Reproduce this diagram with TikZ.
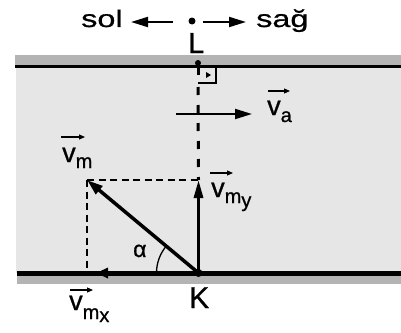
\documentclass[tikz,border=0pt]{standalone}
\usepackage{fontspec}
\setmainfont[FakeBold=0.8]{Liberation Sans}
\newfontfamily\widefont[FakeStretch=1.35,FakeBold=0.8]{Liberation Sans}
\usetikzlibrary{arrows.meta}
\definecolor{bank}{RGB}{180,180,180}
\definecolor{water}{RGB}{230,230,230}
\newcommand\bigvf{\fontsize{27}{27}\selectfont}
\newcommand\subf{\fontsize{20}{20}\selectfont}
\begin{document}
\begin{tikzpicture}[x=1pt,y=-1pt,
  lbl/.style={inner sep=0pt,anchor=base west},
  vlbl/.style={lbl,font=\bigvf},
  thinarr/.style={line width=2pt,-{Triangle[length=17pt,width=10pt]}},
  vecarr/.style={line width=1.1pt,-{Triangle[length=6pt,width=5pt]}},
  thickarr/.style={line width=3pt,-{Triangle[length=18pt,width=9pt]}},
  thindash/.style={line width=1.4pt,dash pattern=on 7pt off 4.5pt},
  dot/.style={circle,fill=black,inner sep=0pt,minimum size=#1}]
\useasboundingbox (0,0) rectangle (401,332);
% river and banks
\fill[water] (16,67) rectangle (401,273);
\fill[bank] (15,55) rectangle (401,66);
\fill[bank] (17,273) rectangle (401,284);
\draw[line width=2.5pt] (15,66.5) -- (401,66.5);
\draw[line width=5pt] (17,273) -- (401,273);
% direction legend
\node[dot=7pt] (o) at (192,21) {};
\node[lbl,font=\fontsize{24}{24}\widefont] (sol) at (81,27) {sol};
\node[lbl,font=\fontsize{24}{24}\widefont] (sag) at (256,27) {sağ};
\coordinate (ls) at (173,22);
\coordinate (le) at (131,22);
\coordinate (rs) at (203,22);
\coordinate (re) at (246,22);
\draw[thinarr] (ls) -- (le);
\draw[thinarr] (rs) -- (re);
\node[lbl,font=\fontsize{29}{29}\selectfont] (L) at (188,53) {L};
% landing point and perpendicular
\node[dot=6pt] (Lp) at (198,63) {};
\coordinate (Ls) at (198,75);
\coordinate (Ld) at (198,87);
\draw[line width=3pt] (Lp.center) -- (Ls);
\coordinate (Y) at (198.5,180);
\draw[line width=3pt,dash pattern=on 8pt off 10pt] (Ld) -- (Y);
\draw[line width=1.3pt] (198,83) -- (216,83) -- (216,68);
\fill (206,72) -- (211,75) -- (206,78) -- cycle;
% water velocity
\coordinate (as) at (176,114);
\coordinate (ae) at (252,114);
\draw[thinarr] (as) -- (ae);
\node[vlbl] (va) at (267,115) {v\raisebox{-7pt}{\subf a}};
\draw[vecarr] ([shift={(1,-24)}]va.base west) -- ++(22,0);
% swimmer velocity
\node[dot=8pt] (K) at (198.5,273) {};
\coordinate (M) at (87,180);
\coordinate (X) at (96,273);
\coordinate (Mb) at (87,272);
\draw[thindash] (M) -- (Y);
\draw[thindash] (M) -- (Mb);
\draw[line width=3pt,-{Triangle[length=12pt,width=10pt]}] (K.center) -- (X);
\draw[thickarr] (K.center) -- (Y);
\draw[line width=3.5pt,-{Triangle[length=16pt,width=10pt]}] (K.center) -- (M);
\draw[line width=1.3pt] ([shift={(180:42)}]K.center) arc[start angle=180,end angle=219.7,radius=42];
\node[lbl,font=\fontsize{23}{23}\selectfont] (al) at (133,257) {α};
\node[lbl,font=\fontsize{30}{30}\selectfont] (Kl) at (189,308) {K};
% labels
\node[vlbl] (vm) at (62,162) {v\raisebox{-6pt}{\subf m}};
\draw[vecarr] ([shift={(-1,-25)}]vm.base west) -- ++(24,0);
\node[vlbl] (vmy) at (211,197) {v\raisebox{-6pt}{\subf m\raisebox{-4pt}{y}}};
\draw[vecarr] ([shift={(-1,-24)}]vmy.base west) -- ++(23,0);
\node[vlbl] (vmx) at (69,310) {v\raisebox{-9pt}{\subf m\raisebox{-3pt}{x}}};
\draw[vecarr] ([shift={(1,-20)}]vmx.base west) -- ++(23,0);
\end{tikzpicture}
\end{document}
